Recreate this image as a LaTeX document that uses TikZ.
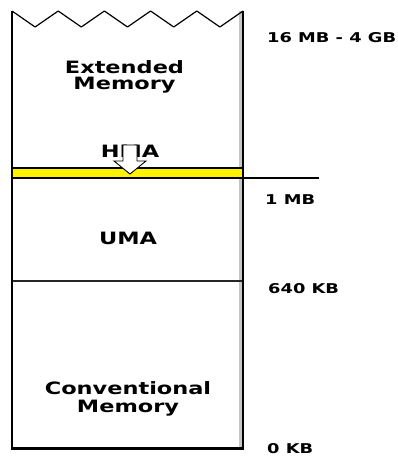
\documentclass[tikz,border=0pt]{standalone}
\usepackage{fontspec}
\newfontfamily\memfont{DejaVu Sans Bold}[FakeStretch=1.32]
\usetikzlibrary{positioning}

\begin{document}
\begin{tikzpicture}[x=1pt,y=-1pt,
  region/.style={font=\memfont\fontsize{17}{15.5}\selectfont,align=center,inner sep=0pt},
  addr/.style={font=\memfont\fontsize{13.5}{14}\selectfont,anchor=base west,inner sep=0pt}]
\useasboundingbox (0,0) rectangle (398,460);
\coordinate (TL) at (12,11);
\coordinate (TR) at (243,11);
\coordinate (BL) at (12,448);
\coordinate (BR) at (243,448);

% shadow on the right wall
\fill[gray!45] (239,11) rectangle (242,448);
% HMA band
\fill[yellow] (12,168) rectangle (243,178);
\draw[line width=1.5pt] (12,168) -- (243,168);
\draw[line width=1.5pt] (12,178) -- (319,178);
\draw[line width=1.3pt,black!85] (12,281) -- (243,281);
% outline
\draw[line width=2pt] (TL) -- (BL);
\draw[line width=2pt] (TR) -- (BR);
\draw[line width=3pt] ([xshift=-1pt]BL) -- ([xshift=1pt]BR);
\draw[line width=1.2pt,line join=round] (TL) \foreach \i in {1,...,5} {-- ++(23.1,16) -- ++(23.1,-16)};

% regions
\node[region] (ext) at (124.5,77) {Extended\\Memory};
\node[region] (hma) at (130,151) {HMA};
\draw[fill=white,line width=0.9pt] (123,145) -- (137,145) -- (137,161) -- (146,161)
  -- (130,174) -- (114,161) -- (123,161) -- cycle;
\node[region] (uma) at (128,238.5) {UMA};
\node[region] (conv) at (128,399) {Conventional\\[2.5pt]Memory};

% addresses
\node[addr] (top) at (267,42) {16 MB - 4 GB};
\node[addr] (mb) at (265,204) {1 MB};
\node[addr] (kb640) at (268,293) {640 KB};
\node[addr] (kb0) at (267,453) {0 KB};
\end{tikzpicture}
\end{document}
